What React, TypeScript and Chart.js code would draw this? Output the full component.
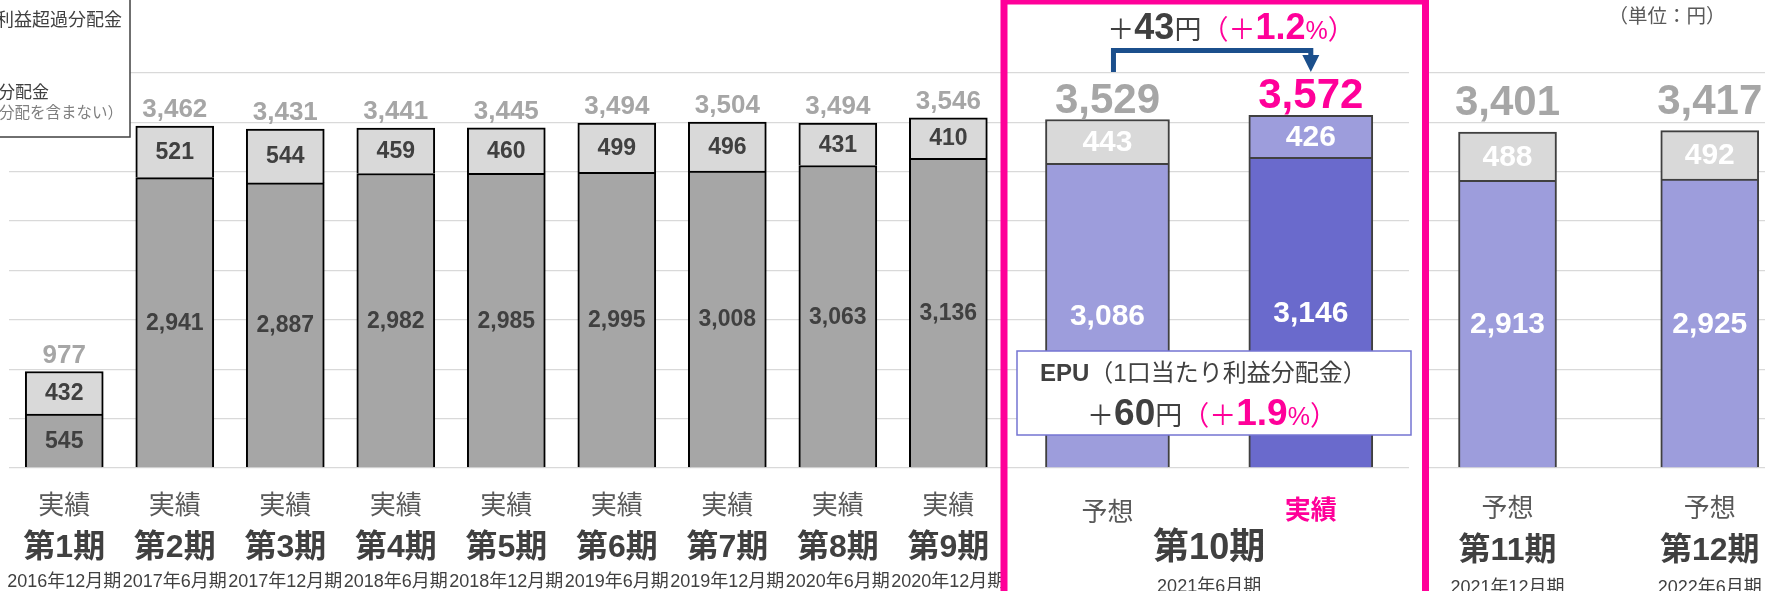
import React, { useEffect, useRef } from 'react';
import { Chart, registerables } from 'chart.js';

Chart.register(...registerables);

// ---------------- data ----------------
const statusLabels = ['実績', '実績', '実績', '実績', '実績', '実績', '実績', '実績', '実績', '予想', '実績', '予想', '予想'];
const barSlots = [1, 2, 3, 4, 5, 6, 7, 8, 9, 10.44, 12.28, 14.06, 15.89];
const baseValues = [545, 2941, 2887, 2982, 2985, 2995, 3008, 3063, 3136, 3086, 3146, 2913, 2925];
const excessValues = [432, 521, 544, 459, 460, 499, 496, 431, 410, 443, 426, 488, 492];
const totalValues = [977, 3462, 3431, 3441, 3445, 3494, 3504, 3494, 3546, 3529, 3572, 3401, 3417];
const periodLabels = ['第1期', '第2期', '第3期', '第4期', '第5期', '第6期', '第7期', '第8期', '第9期', '第10期', '第11期', '第12期'];
const dateLabels = ['2016年12月期', '2017年6月期', '2017年12月期', '2018年6月期', '2018年12月期', '2019年6月期', '2019年12月期', '2020年6月期', '2020年12月期', '2021年6月期', '2021年12月期', '2022年6月期'];
const periodBars = [[0], [1], [2], [3], [4], [5], [6], [7], [8], [9, 10], [11], [12]];
const groupBars = [[0, 1, 2, 3, 4, 5, 6, 7, 8], [9, 10], [11, 12]];
const yMax = 4000;
const yStep = 500;

// ---------------- styles ----------------
const FONT = '"Liberation Sans", "Noto Sans CJK JP", sans-serif';
const font = (size: number, bold = false) => `${bold ? 'bold ' : ''}${size}px ${FONT}`;
const PINK = '#ff0099';
const GREY = '#a6a6a6';
const LIGHT = '#d9d9d9';
const LPURPLE = '#9d9ddc';
const DPURPLE = '#6a6acc';

const groupStyles = [
  {
    thickness: 78, border: '#000000',
    baseColors: [GREY, GREY, GREY, GREY, GREY, GREY, GREY, GREY, GREY],
    topColors: [LIGHT, LIGHT, LIGHT, LIGHT, LIGHT, LIGHT, LIGHT, LIGHT, LIGHT],
    labelColor: '#404040', labelSize: 23, totalSize: 26, totalGap: 9,
    totalColors: [GREY, GREY, GREY, GREY, GREY, GREY, GREY, GREY, GREY],
    statusY: 39, periodY: 80, dateY: 114, periodSize: 32,
  },
  {
    thickness: 124, border: '#404040',
    baseColors: [LPURPLE, DPURPLE],
    topColors: [LIGHT, LPURPLE],
    labelColor: '#ffffff', labelSize: 30, totalSize: 42, totalGap: 7,
    totalColors: [GREY, PINK],
    statusY: 46, periodY: 81, dateY: 119, periodSize: 36,
  },
  {
    thickness: 98, border: '#404040',
    baseColors: [LPURPLE, LPURPLE],
    topColors: [LIGHT, LIGHT],
    labelColor: '#ffffff', labelSize: 30, totalSize: 42, totalGap: 17,
    totalColors: [GREY, GREY],
    statusY: 42, periodY: 83, dateY: 120, periodSize: 32,
  },
];

type Run = { text: string; font: string; color: string };

function drawRuns(ctx: CanvasRenderingContext2D, runs: Run[], x: number, y: number, align: 'left' | 'center') {
  const widths = runs.map((r) => { ctx.font = r.font; return ctx.measureText(r.text).width; });
  const total = widths.reduce((a, b) => a + b, 0);
  let cx = align === 'center' ? x - total / 2 : x;
  ctx.textAlign = 'left';
  ctx.textBaseline = 'alphabetic';
  runs.forEach((r, i) => {
    ctx.font = r.font;
    ctx.fillStyle = r.color;
    ctx.fillText(r.text, cx, y);
    cx += widths[i];
  });
}

const decorPlugin = {
  id: 'decor',
  beforeDatasetsDraw(chart: any) {
    const ctx = chart.ctx as CanvasRenderingContext2D;
    ctx.save();
    ctx.fillStyle = '#ffffff';
    ctx.fillRect(1409, chart.chartArea.top - 5, 13, chart.chartArea.bottom - chart.chartArea.top + 10);
    ctx.restore();
  },
  afterDatasetsDraw(chart: any) {
    const ctx = chart.ctx as CanvasRenderingContext2D;
    const area = chart.chartArea;
    ctx.save();

    const barPos: { x: number; top: number }[] = [];

    chart.data.datasets.forEach((ds: any, di: number) => {
      const meta = chart.getDatasetMeta(di);
      const st = groupStyles[ds.groupIndex];
      meta.data.forEach((el: any, j: number) => {
        const idx = ds.barIndices[j];
        const value = ds.data[j].y;
        const cy = (el.y + el.base) / 2;
        ctx.font = font(st.labelSize, true);
        ctx.fillStyle = st.labelColor;
        ctx.textAlign = 'center';
        ctx.textBaseline = 'middle';
        ctx.fillText(value.toLocaleString('en-US'), el.x, cy + 1);
        if (ds.segment === 'top') {
          barPos[idx] = { x: el.x, top: el.y };
          ctx.font = font(st.totalSize, true);
          ctx.fillStyle = st.totalColors[j];
          ctx.textBaseline = 'alphabetic';
          ctx.fillText(totalValues[idx].toLocaleString('en-US'), el.x, el.y - st.totalGap);
        }
      });
    });

    // category labels
    const groupOf = (i: number) => groupBars.findIndex((g) => g.includes(i));
    statusLabels.forEach((s, i) => {
      const st = groupStyles[groupOf(i)];
      const pink = groupOf(i) === 1 && s === '実績';
      ctx.font = font(26, pink);
      ctx.fillStyle = pink ? PINK : '#595959';
      ctx.textAlign = 'center';
      ctx.textBaseline = 'middle';
      ctx.fillText(s, barPos[i].x, area.bottom + st.statusY - (pink ? 2 : 0));
    });
    periodLabels.forEach((p, k) => {
      const bars = periodBars[k];
      const cx = bars.reduce((a, b) => a + barPos[b].x, 0) / bars.length;
      const st = groupStyles[groupOf(bars[0])];
      ctx.font = font(st.periodSize, true);
      ctx.fillStyle = '#404040';
      ctx.textAlign = 'center';
      ctx.textBaseline = 'middle';
      ctx.fillText(p, cx, area.bottom + st.periodY);
      ctx.font = font(18);
      ctx.fillText(dateLabels[k], cx, area.bottom + st.dateY);
    });

    // legend box (partially off canvas)
    ctx.fillStyle = '#ffffff';
    ctx.fillRect(-10, -10, 140, 147);
    ctx.strokeStyle = '#404040';
    ctx.lineWidth = 1.5;
    ctx.strokeRect(-10, -10, 140, 147);
    ctx.textBaseline = 'middle';
    ctx.textAlign = 'right';
    ctx.fillStyle = '#404040';
    ctx.font = font(18);
    ctx.fillText('1口当たり利益超過分配金', 122, 21);
    ctx.font = font(17);
    ctx.fillText('1口当たり利益分配金', 49, 93);
    ctx.font = font(15.5);
    ctx.fillStyle = '#7f7f7f';
    const tail = '分配を含まない）';
    const tw = ctx.measureText(tail).width;
    ctx.fillText('（利益超過分配を含まない）', tw - 1, 114);

    // unit
    ctx.font = font(19.5);
    ctx.fillStyle = '#595959';
    ctx.textAlign = 'center';
    ctx.fillText('（単位：円）', 1667, 18);

    // pink frame
    ctx.strokeStyle = PINK;
    ctx.lineWidth = 7;
    ctx.strokeRect(1004, 1, 421.5, 700);

    // bracket arrow
    const lx = barPos[9].x + 6;
    const rx = barPos[10].x;
    ctx.strokeStyle = '#1b4f8c';
    ctx.fillStyle = '#1b4f8c';
    ctx.lineWidth = 5;
    ctx.lineJoin = 'miter';
    ctx.beginPath();
    ctx.moveTo(lx, 72);
    ctx.lineTo(lx, 50.5);
    ctx.lineTo(rx, 50.5);
    ctx.lineTo(rx, 57);
    ctx.stroke();
    ctx.beginPath();
    ctx.moveTo(rx - 8.5, 55);
    ctx.lineTo(rx + 8.5, 55);
    ctx.lineTo(rx, 72);
    ctx.closePath();
    ctx.fill();

    drawRuns(ctx, [
      { text: '＋', font: font(27), color: '#404040' },
      { text: '43', font: font(36, true), color: '#404040' },
      { text: '円', font: font(27), color: '#404040' },
      { text: '（＋', font: font(27), color: PINK },
      { text: '1.2', font: font(36, true), color: PINK },
      { text: '%', font: font(25), color: PINK },
      { text: '）', font: font(27), color: PINK },
    ], 1231, 39, 'center');

    // EPU box
    ctx.fillStyle = '#ffffff';
    ctx.fillRect(1017, 351, 394, 84);
    ctx.strokeStyle = '#7474d2';
    ctx.lineWidth = 1.5;
    ctx.strokeRect(1017, 351, 394, 84);
    drawRuns(ctx, [
      { text: 'EPU', font: font(24, true), color: '#404040' },
      { text: '（1口当たり利益分配金）', font: font(24), color: '#404040' },
    ], 1040, 381, 'left');
    drawRuns(ctx, [
      { text: '＋', font: font(27), color: '#404040' },
      { text: '60', font: font(37, true), color: '#404040' },
      { text: '円', font: font(27), color: '#404040' },
      { text: '（＋', font: font(27), color: PINK },
      { text: '1.9', font: font(37, true), color: PINK },
      { text: '%', font: font(25), color: PINK },
      { text: '）', font: font(27), color: PINK },
    ], 1212, 425, 'center');

    ctx.restore();
  },
};

export default function App() {
  const ref = useRef<HTMLCanvasElement | null>(null);

  useEffect(() => {
    if (!ref.current) return;
    const datasets: any[] = [];
    (['base', 'top'] as const).forEach((segment) => {
      groupBars.forEach((bars, g) => {
        const st = groupStyles[g];
        const values = segment === 'base' ? baseValues : excessValues;
        datasets.push({
          label: segment === 'base' ? '1口当たり利益分配金' : '1口当たり利益超過分配金',
          data: bars.map((i) => ({ x: barSlots[i], y: values[i] })),
          backgroundColor: segment === 'base' ? st.baseColors : st.topColors,
          borderColor: st.border,
          borderWidth: 2,
          borderSkipped: 'bottom',
          barThickness: st.thickness,
          groupIndex: g,
          segment,
          barIndices: bars,
        });
      });
    });

    const chart = new Chart(ref.current, {
      type: 'bar',
      data: { datasets },
      options: {
        animation: false,
        responsive: false,
        devicePixelRatio: 1,
        layout: { padding: { left: 9, right: 0, top: 73, bottom: 123 } },
        plugins: { legend: { display: false }, tooltip: { enabled: false } },
        scales: {
          x: { type: 'linear', min: 0.5, max: 16.39, stacked: true, display: false, offset: false, grid: { offset: false } },
          y: {
            stacked: true,
            min: 0,
            max: yMax,
            ticks: { display: false, stepSize: yStep },
            grid: { color: '#d9d9d9', lineWidth: 1.3, drawTicks: false },
            border: { display: false },
          },
        },
      } as any,
      plugins: [decorPlugin],
    });
    return () => chart.destroy();
  }, []);

  return (
    <div style={{ position: 'absolute', left: 0, top: 0, width: 1765, height: 591, background: '#ffffff', overflow: 'hidden' }}>
      <canvas ref={ref} width={1765} height={591} style={{ display: 'block' }} />
    </div>
  );
}
